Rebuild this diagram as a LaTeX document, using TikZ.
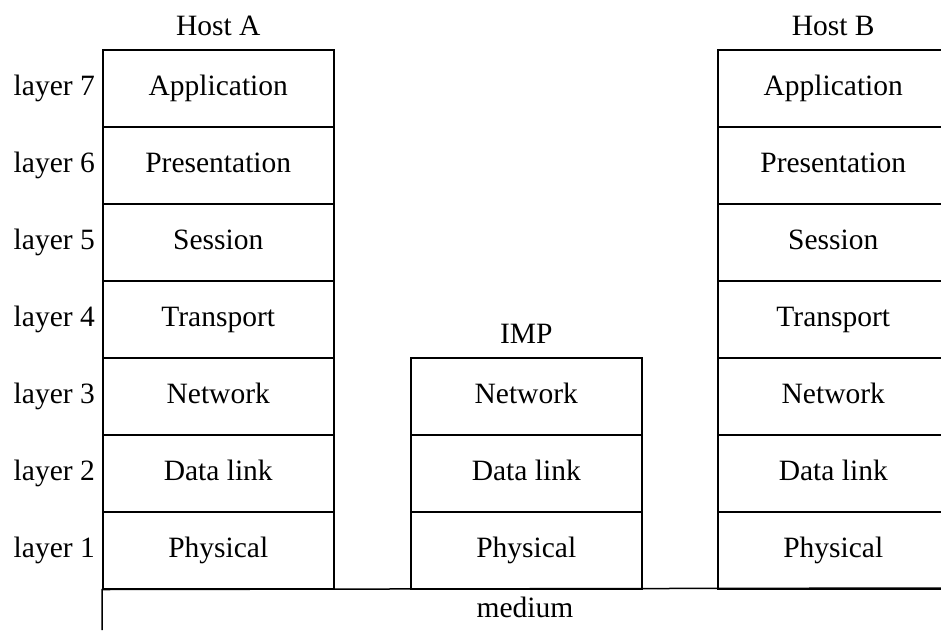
\documentclass[tikz,border=0pt]{standalone}
\usepackage{fontspec}
\setmainfont{Liberation Serif}
\begin{document}
\begin{tikzpicture}[x=1pt,y=-1pt,
  txt/.style={font=\fontsize{29.5}{35}\selectfont, text height=20pt, text depth=6pt},
  cell/.style={draw, line width=1.5pt, minimum width=231pt, minimum height=77pt,
    inner sep=0pt, anchor=north west, txt},
  lbl/.style={inner sep=0pt, txt}]
\useasboundingbox (0,0) rectangle (941,630);
% Host A
\node[cell] (a7) at (102,49)  {Application};
\node[cell] (a6) at (102,126) {Presentation};
\node[cell] (a5) at (102,203) {Session};
\node[cell] (a4) at (102,280) {Transport};
\node[cell] (a3) at (102,357) {Network};
\node[cell] (a2) at (102,434) {Data link};
\node[cell] (a1) at (102,511) {Physical};
% IMP
\node[cell] (i3) at (410,357) {Network};
\node[cell] (i2) at (410,434) {Data link};
\node[cell] (i1) at (410,511) {Physical};
% Host B
\node[cell] (b7) at (717,49)  {Application};
\node[cell] (b6) at (717,126) {Presentation};
\node[cell] (b5) at (717,203) {Session};
\node[cell] (b4) at (717,280) {Transport};
\node[cell] (b3) at (717,357) {Network};
\node[cell] (b2) at (717,434) {Data link};
\node[cell] (b1) at (717,511) {Physical};
% titles
\node[lbl, anchor=base] (ha) at ([yshift=14pt]a7.north) {Host A};
\node[lbl, anchor=base] (hb) at ([yshift=14pt]b7.north) {Host B};
\node[lbl, anchor=base] (imp) at ([yshift=14pt]i3.north) {IMP};
% layer labels
\foreach \n in {1,...,7}{
  \node[lbl, anchor=east] (l\n) at ([xshift=-7pt]a\n.west) {layer \n};
}
% medium
\coordinate (m1) at (102,630);
\coordinate (m2) at (941,588);
\draw[line width=1.5pt] (m1) -- (a1.south west) -- (m2);
\node[lbl] (med) at (525,610) {medium};
\end{tikzpicture}
\end{document}
